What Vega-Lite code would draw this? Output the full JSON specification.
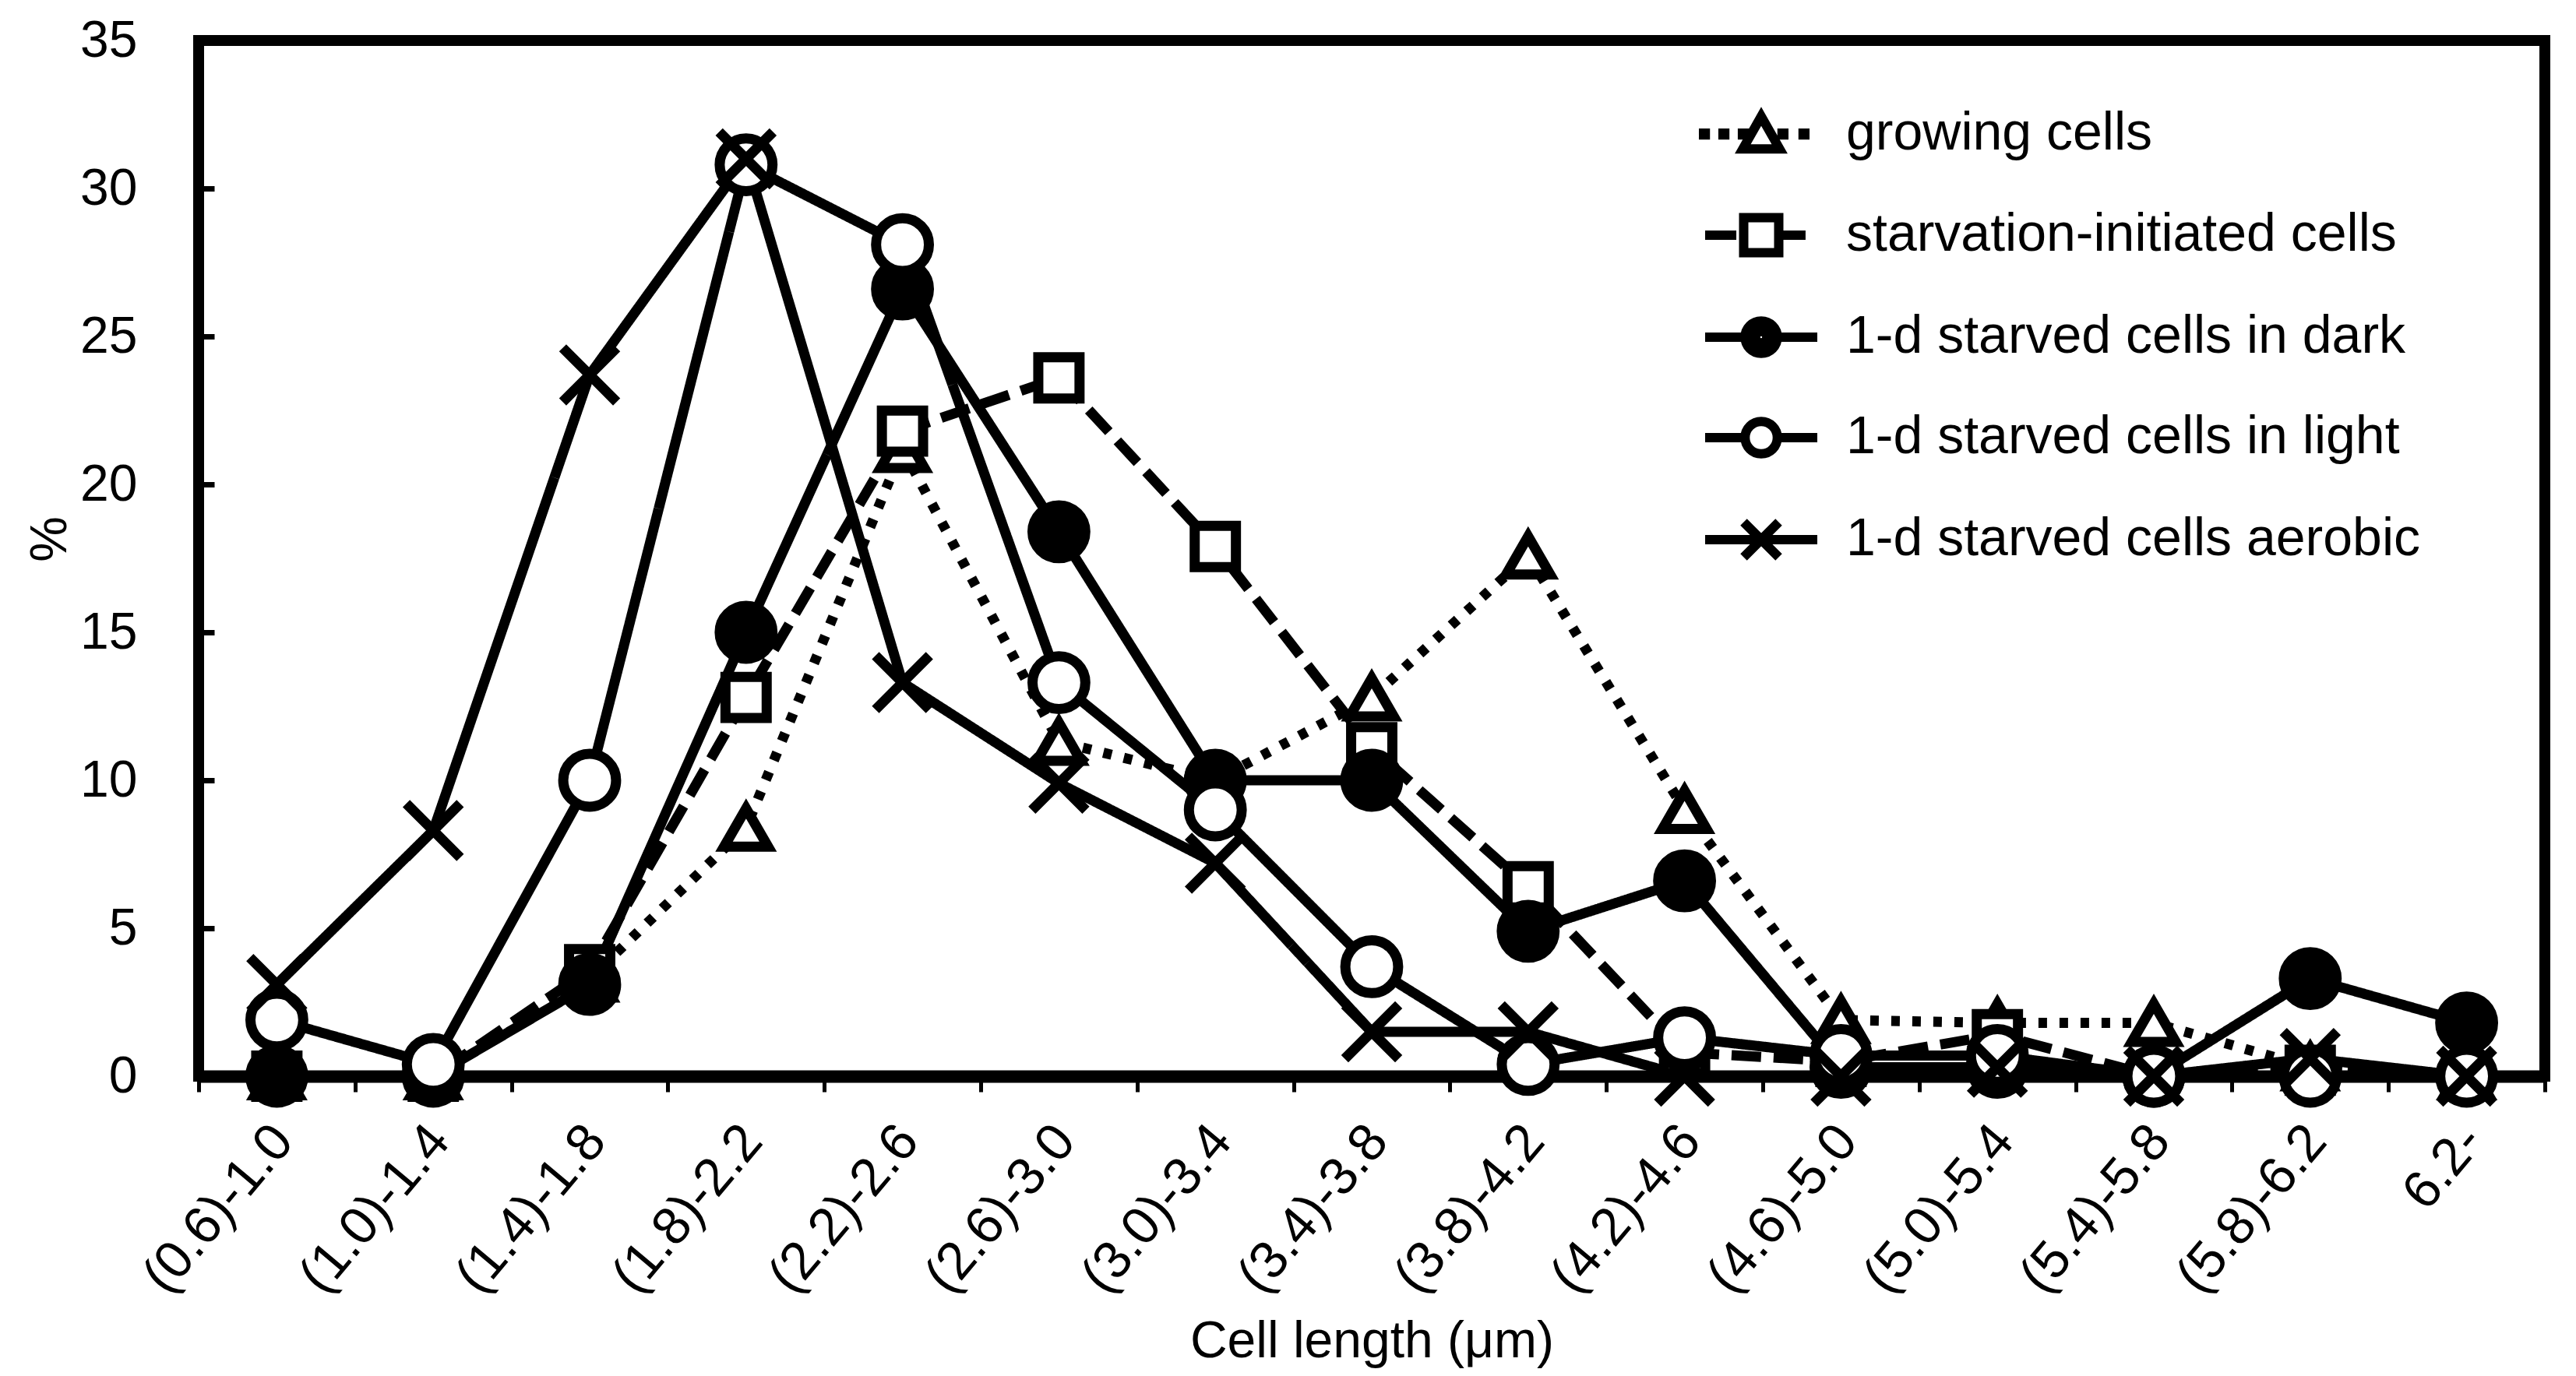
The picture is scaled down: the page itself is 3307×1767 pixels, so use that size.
{
  "$schema": "https://vega.github.io/schema/vega-lite/v6.json",
  "width": 3012,
  "height": 1330,
  "autosize": "none",
  "padding": {"left": 255, "top": 52, "right": 40, "bottom": 385},
  "background": "white",
  "config": {
    "view": {"stroke": "black", "strokeWidth": 14},
    "font": "Liberation Sans",
    "axis": {"labelColor": "black", "titleColor": "black", "tickColor": "black", "domainColor": "black", "labelFont": "Liberation Sans", "titleFont": "Liberation Sans", "titleFontWeight": "normal", "grid": false}
  },
  "data": {
    "values": [
      {"length": "(0.6)-1.0", "series": "growing cells", "pct": 0},
      {"length": "(1.0)-1.4", "series": "growing cells", "pct": 0},
      {"length": "(1.4)-1.8", "series": "growing cells", "pct": 3.3},
      {"length": "(1.8)-2.2", "series": "growing cells", "pct": 8.4},
      {"length": "(2.2)-2.6", "series": "growing cells", "pct": 21.2},
      {"length": "(2.6)-3.0", "series": "growing cells", "pct": 11.3},
      {"length": "(3.0)-3.4", "series": "growing cells", "pct": 10.0},
      {"length": "(3.4)-3.8", "series": "growing cells", "pct": 12.8},
      {"length": "(3.8)-4.2", "series": "growing cells", "pct": 17.6},
      {"length": "(4.2)-4.6", "series": "growing cells", "pct": 9.0},
      {"length": "(4.6)-5.0", "series": "growing cells", "pct": 1.9},
      {"length": "(5.0)-5.4", "series": "growing cells", "pct": 1.8},
      {"length": "(5.4)-5.8", "series": "growing cells", "pct": 1.8},
      {"length": "(5.8)-6.2", "series": "growing cells", "pct": 0.3},
      {"length": "6.2-", "series": "growing cells", "pct": 0},
      {"length": "(0.6)-1.0", "series": "starvation-initiated cells", "pct": 0},
      {"length": "(1.0)-1.4", "series": "starvation-initiated cells", "pct": 0},
      {"length": "(1.4)-1.8", "series": "starvation-initiated cells", "pct": 3.6},
      {"length": "(1.8)-2.2", "series": "starvation-initiated cells", "pct": 12.8},
      {"length": "(2.2)-2.6", "series": "starvation-initiated cells", "pct": 21.8},
      {"length": "(2.6)-3.0", "series": "starvation-initiated cells", "pct": 23.6},
      {"length": "(3.0)-3.4", "series": "starvation-initiated cells", "pct": 17.9},
      {"length": "(3.4)-3.8", "series": "starvation-initiated cells", "pct": 11.1},
      {"length": "(3.8)-4.2", "series": "starvation-initiated cells", "pct": 6.4},
      {"length": "(4.2)-4.6", "series": "starvation-initiated cells", "pct": 0.8},
      {"length": "(4.6)-5.0", "series": "starvation-initiated cells", "pct": 0.5},
      {"length": "(5.0)-5.4", "series": "starvation-initiated cells", "pct": 1.4},
      {"length": "(5.4)-5.8", "series": "starvation-initiated cells", "pct": 0},
      {"length": "(5.8)-6.2", "series": "starvation-initiated cells", "pct": 0.2},
      {"length": "6.2-", "series": "starvation-initiated cells", "pct": 0},
      {"length": "(0.6)-1.0", "series": "1-d starved cells in dark", "pct": 0},
      {"length": "(1.0)-1.4", "series": "1-d starved cells in dark", "pct": 0},
      {"length": "(1.4)-1.8", "series": "1-d starved cells in dark", "pct": 3.1},
      {"length": "(1.8)-2.2", "series": "1-d starved cells in dark", "pct": 15.0},
      {"length": "(2.2)-2.6", "series": "1-d starved cells in dark", "pct": 26.6},
      {"length": "(2.6)-3.0", "series": "1-d starved cells in dark", "pct": 18.4},
      {"length": "(3.0)-3.4", "series": "1-d starved cells in dark", "pct": 10.0},
      {"length": "(3.4)-3.8", "series": "1-d starved cells in dark", "pct": 10.0},
      {"length": "(3.8)-4.2", "series": "1-d starved cells in dark", "pct": 4.9},
      {"length": "(4.2)-4.6", "series": "1-d starved cells in dark", "pct": 6.6},
      {"length": "(4.6)-5.0", "series": "1-d starved cells in dark", "pct": 0.3},
      {"length": "(5.0)-5.4", "series": "1-d starved cells in dark", "pct": 0.3},
      {"length": "(5.4)-5.8", "series": "1-d starved cells in dark", "pct": 0},
      {"length": "(5.8)-6.2", "series": "1-d starved cells in dark", "pct": 3.3},
      {"length": "6.2-", "series": "1-d starved cells in dark", "pct": 1.8},
      {"length": "(0.6)-1.0", "series": "1-d starved cells in light", "pct": 1.9},
      {"length": "(1.0)-1.4", "series": "1-d starved cells in light", "pct": 0.4},
      {"length": "(1.4)-1.8", "series": "1-d starved cells in light", "pct": 10.0},
      {"length": "(1.8)-2.2", "series": "1-d starved cells in light", "pct": 30.8},
      {"length": "(2.2)-2.6", "series": "1-d starved cells in light", "pct": 28.1},
      {"length": "(2.6)-3.0", "series": "1-d starved cells in light", "pct": 13.3},
      {"length": "(3.0)-3.4", "series": "1-d starved cells in light", "pct": 9.0},
      {"length": "(3.4)-3.8", "series": "1-d starved cells in light", "pct": 3.7},
      {"length": "(3.8)-4.2", "series": "1-d starved cells in light", "pct": 0.4},
      {"length": "(4.2)-4.6", "series": "1-d starved cells in light", "pct": 1.3},
      {"length": "(4.6)-5.0", "series": "1-d starved cells in light", "pct": 0.7},
      {"length": "(5.0)-5.4", "series": "1-d starved cells in light", "pct": 0.7},
      {"length": "(5.4)-5.8", "series": "1-d starved cells in light", "pct": 0},
      {"length": "(5.8)-6.2", "series": "1-d starved cells in light", "pct": 0},
      {"length": "6.2-", "series": "1-d starved cells in light", "pct": 0},
      {"length": "(0.6)-1.0", "series": "1-d starved cells aerobic", "pct": 3.1},
      {"length": "(1.0)-1.4", "series": "1-d starved cells aerobic", "pct": 8.3},
      {"length": "(1.4)-1.8", "series": "1-d starved cells aerobic", "pct": 23.7},
      {"length": "(1.8)-2.2", "series": "1-d starved cells aerobic", "pct": 31.0},
      {"length": "(2.2)-2.6", "series": "1-d starved cells aerobic", "pct": 13.3},
      {"length": "(2.6)-3.0", "series": "1-d starved cells aerobic", "pct": 9.9},
      {"length": "(3.0)-3.4", "series": "1-d starved cells aerobic", "pct": 7.2},
      {"length": "(3.4)-3.8", "series": "1-d starved cells aerobic", "pct": 1.5},
      {"length": "(3.8)-4.2", "series": "1-d starved cells aerobic", "pct": 1.5},
      {"length": "(4.2)-4.6", "series": "1-d starved cells aerobic", "pct": 0},
      {"length": "(4.6)-5.0", "series": "1-d starved cells aerobic", "pct": 0},
      {"length": "(5.0)-5.4", "series": "1-d starved cells aerobic", "pct": 0.3},
      {"length": "(5.4)-5.8", "series": "1-d starved cells aerobic", "pct": 0},
      {"length": "(5.8)-6.2", "series": "1-d starved cells aerobic", "pct": 0.6},
      {"length": "6.2-", "series": "1-d starved cells aerobic", "pct": 0}
    ]
  },
  "encoding": {
    "x": {
      "field": "length",
      "type": "ordinal",
      "sort": ["(0.6)-1.0", "(1.0)-1.4", "(1.4)-1.8", "(1.8)-2.2", "(2.2)-2.6", "(2.6)-3.0", "(3.0)-3.4", "(3.4)-3.8", "(3.8)-4.2", "(4.2)-4.6", "(4.6)-5.0", "(5.0)-5.4", "(5.4)-5.8", "(5.8)-6.2", "6.2-"],
      "scale": {"type": "band", "paddingInner": 0, "paddingOuter": 0},
      "axis": {
        "title": "Cell length (μm)",
        "titleFontSize": 66,
        "titleX": 1506,
        "titleY": 340,
        "titleBaseline": "middle",
        "labelAngle": -50,
        "labelFontSize": 68,
        "labelPadding": 52,
        "labelOffset": 8,
        "labelOverlap": false,
        "labelBound": false,
        "labelFlush": false,
        "labelLimit": 0,
        "tickSize": 20,
        "tickWidth": 5,
        "tickBand": "extent",
        "domain": true,
        "domainWidth": 16
      }
    },
    "y": {
      "field": "pct",
      "type": "quantitative",
      "scale": {"domain": [0, 35], "nice": false},
      "axis": {
        "title": "%",
        "titleFontSize": 66,
        "titleX": -191,
        "titleY": 640,
        "titleBaseline": "middle",
        "values": [0, 5, 10, 15, 20, 25, 30, 35],
        "labelFontSize": 66,
        "labelPadding": 99,
        "tickSize": -20,
        "tickWidth": 7,
        "domain": false,
        "labelFlush": false,
        "labelBound": false
      }
    }
  },
  "layer": [
    {
      "mark": {"type": "line", "strokeWidth": 13, "color": "black"},
      "encoding": {
        "strokeDash": {
          "field": "series",
          "type": "nominal",
          "scale": {
            "domain": ["growing cells", "starvation-initiated cells", "1-d starved cells in dark", "1-d starved cells in light", "1-d starved cells aerobic"],
            "range": [[11, 16], [38, 16], [1, 0], [1, 0], [1, 0]]
          },
          "legend": null
        }
      }
    },
    {
      "mark": {"type": "point", "filled": true, "stroke": "black", "strokeWidth": 13, "opacity": 1},
      "encoding": {
        "shape": {
          "field": "series",
          "type": "nominal",
          "scale": {
            "domain": ["growing cells", "starvation-initiated cells", "1-d starved cells in dark", "1-d starved cells in light", "1-d starved cells aerobic"],
            "range": ["triangle-up", "square", "circle", "circle", "M-1,-1L1,1M-1,1L1,-1"]
          },
          "legend": null
        },
        "fill": {
          "field": "series",
          "type": "nominal",
          "scale": {
            "domain": ["growing cells", "starvation-initiated cells", "1-d starved cells in dark", "1-d starved cells in light", "1-d starved cells aerobic"],
            "range": ["white", "white", "black", "white", "white"]
          },
          "legend": null
        },
        "size": {
          "field": "series",
          "type": "nominal",
          "scale": {
            "type": "ordinal",
            "domain": ["growing cells", "starvation-initiated cells", "1-d starved cells in dark", "1-d starved cells in light", "1-d starved cells aerobic"],
            "range": [3200, 2800, 4600, 4600, 4800]
          },
          "legend": null
        }
      }
    },
    {
      "transform": [{"filter": "datum.pct > 100"}],
      "mark": {"type": "point", "filled": false, "color": "black", "strokeWidth": 12, "opacity": 1},
      "encoding": {
        "shape": {
          "field": "series",
          "type": "nominal",
          "scale": {
            "domain": ["growing cells", "starvation-initiated cells", "1-d starved cells in dark", "1-d starved cells in light", "1-d starved cells aerobic"],
            "range": [
              "M-3.29,-0.05h0.1v0.1h-0.1ZM-2.18,-0.05h0.1v0.1h-0.1ZM-1.07,-0.05h0.1v0.1h-0.1ZM1.19,-0.05h0.1v0.1h-0.1ZM2.39,-0.05h0.1v0.1h-0.1ZM0,-1L1.05,0.85L-1.05,0.85Z",
              "M-3.2,0L-1.42,0M1,0L2.53,0M-1,-1H1V1H-1Z",
              "M-3.2,0L-0.92,0M0.92,0L3.2,0M0.92,0A0.92,0.92 0 1,1 -0.92,0A0.92,0.92 0 1,1 0.92,0ZM0.62,0A0.62,0.62 0 1,1 -0.62,0A0.62,0.62 0 1,1 0.62,0ZM0.32,0A0.32,0.32 0 1,1 -0.32,0A0.32,0.32 0 1,1 0.32,0ZM0.06,0A0.06,0.06 0 1,1 -0.06,0A0.06,0.06 0 1,1 0.06,0Z",
              "M-3.2,0L-0.92,0M0.92,0L3.2,0M0.92,0A0.92,0.92 0 1,1 -0.92,0A0.92,0.92 0 1,1 0.92,0Z",
              "M-3.2,0L3.2,0M-1,-1L1,1M-1,1L1,-1"
            ]
          },
          "legend": {
            "title": null,
            "orient": "none",
            "legendX": 1972,
            "legendY": 86,
            "padding": 0,
            "symbolSize": 2025,
            "symbolStrokeWidth": 12,
            "symbolStrokeColor": "black",
            "symbolFillColor": "transparent",
            "labelFont": "Liberation Sans",
            "labelFontSize": 68,
            "labelColor": "black",
            "labelLimit": 0,
            "labelOffset": 75,
            "rowPadding": 39,
            "encode": {"symbols": {"update": {"strokeCap": {"value": "round"}, "opacity": {"value": 1}}}}
          }
        }
      }
    }
  ],
  "resolve": {"scale": {"shape": "independent"}}
}
